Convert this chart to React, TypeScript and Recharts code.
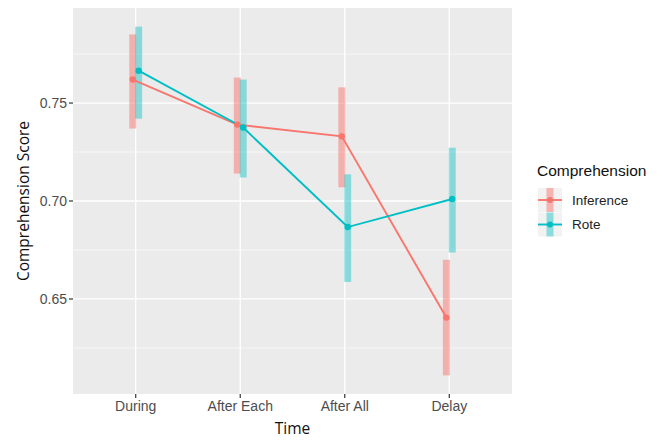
import { LineChart, Line, XAxis, YAxis, CartesianGrid, ErrorBar } from 'recharts'

const categories = ['During', 'After Each', 'After All', 'Delay']

const inferenceMean = [0.762, 0.739, 0.733, 0.6405]
const inferenceLow = [0.737, 0.714, 0.707, 0.611]
const inferenceHigh = [0.785, 0.763, 0.758, 0.670]

const roteMean = [0.7665, 0.7375, 0.6867, 0.701]
const roteLow = [0.742, 0.712, 0.6587, 0.6737]
const roteHigh = [0.789, 0.762, 0.7136, 0.7272]

const yTicks = [0.65, 0.7, 0.75]
const yMinor = [0.625, 0.675, 0.725, 0.775]

const INF = '#F8766D'
const ROTE = '#00BFC4'
const DODGE = 0.028

function buildRows(mean: number[], low: number[], high: number[], shift: number) {
  return mean.map((y, i) => ({
    x: i + 1 + shift,
    y,
    err: [y - low[i], high[i] - y],
  }))
}

const inferenceRows = buildRows(inferenceMean, inferenceLow, inferenceHigh, -DODGE)
const roteRows = buildRows(roteMean, roteLow, roteHigh, DODGE)

function YTitle({ viewBox }: any) {
  const cx = 23
  const cy = viewBox.y + viewBox.height / 2
  return (
    <text
      x={cx}
      y={cy}
      transform={`rotate(-90, ${cx}, ${cy})`}
      textAnchor="middle"
      dominantBaseline="central"
      fontFamily="'Open Sans', sans-serif"
      fontSize={15.5}
      fill="#111"
    >
      Comprehension Score
    </text>
  )
}

function LegendKey({ y, color, opacity }: { y: number; color: string; opacity: number }) {
  return (
    <g>
      <rect x={538} y={y - 12} width={24} height={24} fill="#F2F2F2" />
      <line x1={550} x2={550} y1={y - 12} y2={y + 12} stroke={color} strokeOpacity={opacity} strokeWidth={7} />
      <line x1={538} x2={562} y1={y} y2={y} stroke={color} strokeWidth={1.9} />
      <circle cx={550} cy={y} r={3} fill={color} />
    </g>
  )
}

export default function App() {
  return (
    <div style={{ position: 'absolute', left: 0, top: 0, width: 672, height: 440, background: '#fff' }}>
      <LineChart
        width={672}
        height={440}
        margin={{ top: 8, right: 160, bottom: 0, left: 0 }}
      >
        <CartesianGrid
          fill="#EBEBEB"
          stroke="#fff"
          strokeWidth={0.6}
          vertical={false}
          horizontalValues={yMinor}
        />
        <CartesianGrid
          stroke="#fff"
          strokeWidth={1.3}
          horizontalValues={yTicks}
          verticalValues={[1, 2, 3, 4]}
        />
        <XAxis
          dataKey="x"
          type="number"
          domain={[0.4, 4.6]}
          ticks={[1, 2, 3, 4]}
          tickFormatter={(v: number) => categories[Math.round(v) - 1]}
          allowDataOverflow
          height={46}
          axisLine={false}
          tickLine={{ stroke: '#333', strokeWidth: 1.2 }}
          tickSize={4}
          tickMargin={3}
          tick={{ fill: '#4D4D4D', fontSize: 14, fontFamily: "'Liberation Sans', Arial, sans-serif" }}
          label={{
            value: 'Time',
            position: 'insideBottom',
            offset: 6,
            fill: '#111',
            fontSize: 15.5,
            fontFamily: "'Open Sans', sans-serif",
          }}
        />
        <YAxis
          type="number"
          domain={[0.6015, 0.7985]}
          ticks={yTicks}
          tickFormatter={(v: number) => v.toFixed(2)}
          allowDataOverflow
          width={73}
          axisLine={false}
          tickLine={{ stroke: '#333', strokeWidth: 1.2 }}
          tickSize={4}
          tickMargin={2}
          tick={{ fill: '#4D4D4D', fontSize: 14, fontFamily: "'Liberation Sans', Arial, sans-serif" }}
          label={<YTitle />}
        />

        {/* interval bars first, so the lines sit on top */}
        <Line data={inferenceRows} dataKey="y" stroke="none" dot={false} activeDot={false} isAnimationActive={false}>
          <ErrorBar dataKey="err" direction="y" width={0} strokeWidth={7} stroke={INF} strokeOpacity={0.5} isAnimationActive={false} />
        </Line>
        <Line data={roteRows} dataKey="y" stroke="none" dot={false} activeDot={false} isAnimationActive={false}>
          <ErrorBar dataKey="err" direction="y" width={0} strokeWidth={7} stroke={ROTE} strokeOpacity={0.42} isAnimationActive={false} />
        </Line>

        <Line
          data={inferenceRows}
          dataKey="y"
          stroke={INF}
          strokeWidth={1.9}
          dot={{ r: 3.2, fill: INF, stroke: 'none' }}
          activeDot={false}
          isAnimationActive={false}
        />
        <Line
          data={roteRows}
          dataKey="y"
          stroke={ROTE}
          strokeWidth={1.9}
          dot={{ r: 3.2, fill: ROTE, stroke: 'none' }}
          activeDot={false}
          isAnimationActive={false}
        />
      </LineChart>

      {/* Legend */}
      <svg
        width={672}
        height={440}
        style={{ position: 'absolute', left: 0, top: 0, pointerEvents: 'none' }}
      >
        <text x={537} y={176} fontSize={15.5} fill="#111" fontFamily="'Liberation Sans', Arial, sans-serif">
          Comprehension
        </text>
        <LegendKey y={200} color={INF} opacity={0.5} />
        <LegendKey y={224.5} color={ROTE} opacity={0.42} />
        <text x={572} y={200} dominantBaseline="central" fontSize={13.5} fill="#222" fontFamily="'Liberation Sans', Arial, sans-serif">
          Inference
        </text>
        <text x={572} y={224.5} dominantBaseline="central" fontSize={13.5} fill="#222" fontFamily="'Liberation Sans', Arial, sans-serif">
          Rote
        </text>
      </svg>
    </div>
  )
}
